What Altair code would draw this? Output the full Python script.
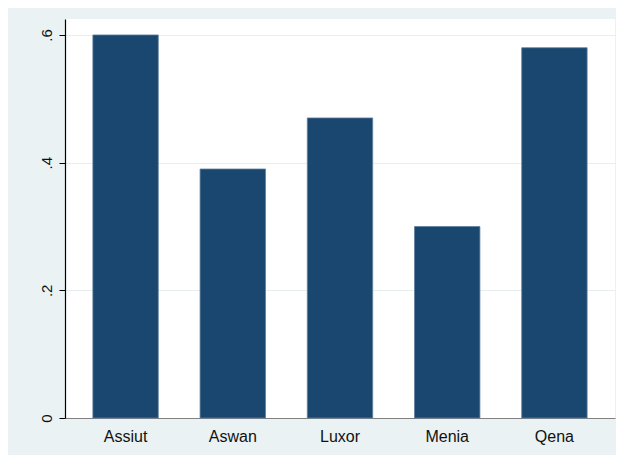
import altair as alt
import pandas as pd

regions = ["Assiut", "Aswan", "Luxor", "Menia", "Qena"]
values = [0.60, 0.39, 0.47, 0.30, 0.58]
y_ticks = [0, 0.2, 0.4, 0.6]

df = pd.DataFrame({"region": regions, "value": values})

bars = alt.Chart(df).mark_bar(
    color="#1A476F", stroke="#5f7f9c", strokeWidth=0.8
).encode(
    x=alt.X("region:N", sort=regions, title=None,
            scale=alt.Scale(paddingInner=0.39, paddingOuter=0.26),
            axis=alt.Axis(labelAngle=0, ticks=False, domainColor="#808080",
                          domainWidth=1, labelFontSize=16, labelColor="#111111",
                          labelFont="Liberation Sans", labelPadding=10, grid=False)),
    y=alt.Y("value:Q", title=None,
            scale=alt.Scale(domain=[0, 0.625], nice=False, zero=True),
            axis=alt.Axis(values=y_ticks,
                          labelExpr="datum.value == 0 ? '0' : replace(format(datum.value, '.1f'), '0.', '.')",
                          labelAngle=270, labelAlign="center", labelBaseline="bottom",
                          labelFontSize=15, labelFont="Liberation Sans", labelColor="#111111",
                          labelPadding=5, tickSize=6, tickColor="#000000",
                          domainColor="#000000", domainWidth=1.2,
                          grid=True, gridColor="#E6EEF0", gridWidth=1.2))
)

chart = bars.properties(
    width=550, height=399,
    autosize=alt.AutoSizeParams(type="none"),
    padding={"left": 57, "top": 11, "right": 1, "bottom": 37},
    background="#EAF2F3",
).configure_view(fill="white", stroke=None)

chart.save("out.html", embed_options={"renderer": "svg", "actions": False})
